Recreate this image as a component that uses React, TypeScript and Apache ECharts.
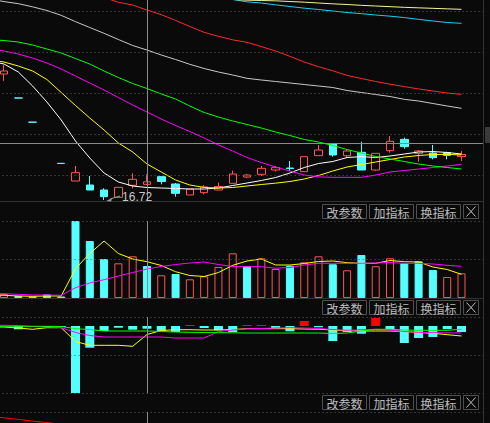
import React, { useEffect, useRef } from 'react';
import * as echarts from 'echarts';

const BG = '#0a0a0a';
const RISE = '#ff5454';
const FALL = '#54ffff';
const GUIDE = '#5e5e5e';
const CURSOR = '#8a8a8a';
const FRAME = '#333333';
const CJK = '"Noto Sans CJK SC", "Noto Sans", sans-serif';

// Daily bars, oldest first.
const opens = [31.84, 28.96, 26.06, 23.5, 21.11, 19.0, 18.52, 17.92, 17.04, 18.48, 18.6, 19.52, 18.64, 17.32, 17.6, 17.92, 18.72, 19.48, 19.8, 20.32, 20.56, 20.12, 22.04, 23.44, 22.04, 22.44, 20.32, 22.64, 24.0, 22.32, 22.36, 22.4, 21.94];
const closes = [32.2, 28.96, 26.06, 23.5, 21.11, 20.0, 17.92, 17.12, 18.24, 19.2, 18.9, 18.94, 17.52, 18.04, 18.3, 18.34, 19.84, 19.72, 20.52, 20.6, 20.5, 21.92, 22.72, 22.12, 22.6, 20.32, 22.32, 23.76, 23.12, 22.6, 21.8, 22.08, 22.18];
const lows = [31.0, 28.96, 26.06, 23.5, 21.11, 19.0, 17.92, 16.72, 17.04, 18.12, 18.52, 18.6, 17.12, 17.32, 17.4, 17.92, 18.72, 19.36, 19.6, 20.14, 20.2, 20.12, 22.04, 21.92, 21.76, 20.32, 20.2, 22.4, 22.88, 21.32, 21.6, 21.6, 21.4];
const highs = [32.92, 28.96, 26.06, 23.5, 21.11, 20.8, 19.6, 18.12, 18.24, 19.92, 19.8, 19.52, 18.76, 18.04, 18.52, 18.8, 20.24, 19.84, 20.8, 20.8, 21.4, 21.92, 23.32, 23.52, 22.8, 23.72, 22.32, 24.4, 24.2, 22.72, 23.32, 22.52, 22.6];

// Price averages. Each list starts one session before the first visible bar.
const ma5 = [33.4, 33.04, 32.08, 30.4, 28.48, 26.32, 23.8, 21.76, 19.96, 18.88, 18.4, 18.22, 18.16, 18.1, 18.04, 18.04, 18.16, 18.46, 18.76, 19.06, 19.42, 19.96, 20.62, 21.1, 21.34, 21.82, 21.92, 21.82, 22.0, 22.24, 22.48, 22.54, 22.42, 22.24];
const ma10 = [33.52, 33.28, 32.8, 32.2, 31.18, 29.62, 28.06, 26.56, 25.12, 23.56, 22.48, 21.04, 20.08, 19.12, 18.52, 18.22, 18.16, 18.22, 18.4, 18.58, 18.74, 18.94, 19.24, 19.66, 20.2, 20.68, 20.98, 21.28, 21.58, 21.88, 22.06, 22.18, 22.2, 22.12];
const ma20 = [34.96, 34.6, 34.24, 33.76, 33.16, 32.44, 31.6, 30.76, 29.92, 29.02, 28.12, 27.28, 26.44, 25.66, 24.94, 24.16, 23.32, 22.6, 21.82, 21.22, 20.68, 20.2, 19.72, 19.5, 19.44, 19.44, 19.44, 19.72, 20.08, 20.26, 20.44, 20.62, 20.8, 21.0];
const ma30 = [35.98, 35.86, 35.68, 35.32, 34.84, 34.36, 33.7, 33.04, 32.2, 31.42, 30.7, 30.1, 29.44, 28.84, 28.0, 27.22, 26.68, 26.2, 25.78, 25.36, 24.88, 24.46, 23.98, 23.68, 23.26, 22.78, 22.36, 21.94, 21.64, 21.34, 21.04, 20.8, 20.62, 20.44];
const ma60 = [40.84, 40.53, 40.28, 39.9, 39.46, 38.88, 38.12, 37.42, 36.72, 35.98, 35.26, 34.72, 34.12, 33.58, 33.0, 32.5, 32.08, 31.72, 31.32, 31.12, 30.94, 30.76, 30.58, 30.4, 30.22, 29.86, 29.62, 29.38, 29.14, 28.8, 28.6, 28.3, 28.0, 27.72];
const ma120 = [null, null, null, null, null, null, null, null, 41.04, 40.44, 40.12, 39.52, 38.96, 38.27, 37.54, 36.84, 36.36, 35.94, 35.64, 35.13, 34.6, 33.96, 33.28, 32.72, 32.22, 31.67, 31.3, 30.94, 30.62, 30.33, 30.05, 29.8, 29.56, 29.4];
const ma250 = [null, null, null, null, null, null, null, null, null, null, null, null, null, null, null, null, null, 40.78, 40.5, 40.36, 40.14, 39.94, 39.74, 39.58, 39.4, 39.22, 39.08, 38.92, 38.78, 38.61, 38.4, 38.2, 38.02, 37.92];
const ma500 = [null, null, null, null, null, null, null, null, null, null, null, null, null, null, null, null, null, 40.78, 40.7, 40.66, 40.62, 40.54, 40.46, 40.36, 40.26, 40.18, 40.08, 40.0, 39.92, 39.84, 39.78, 39.72, 39.66, 39.6];

// Volume (hands) and its two averages (averages start one session early).
const volumes = [4000, 2000, 1500, 3500, 1500, 77000, 57000, 39000, 34700, 41700, 32000, 22700, 24000, 18700, 21700, 31000, 44700, 32000, 39700, 29000, 32300, 35700, 41700, 33700, 27700, 43000, 31700, 39700, 34700, 36700, 28000, 21000, 24700];
const volFast = [2900, 2700, 2000, 1700, 2000, 2000, 29400, 44500, 57000, 44500, 39000, 36300, 32500, 26300, 22500, 21500, 25500, 32700, 37000, 39000, 33000, 33000, 34500, 36500, 37000, 35300, 34700, 34700, 37500, 36300, 36000, 31000, 28500, 23700];
const volSlow = [4300, 4300, 3700, 3000, 3000, 2700, 10300, 15000, 18300, 22000, 25500, 29000, 31500, 33500, 35000, 36000, 33500, 31500, 31300, 31300, 29800, 30500, 33000, 34700, 34700, 34700, 34700, 35000, 35500, 34700, 34700, 34000, 32700, 31700];

// Oscillator pane: histogram plus three lines (lines start one session early).
const oscBars = [0, -0.066, -0.02, -0.02, -0.02, -1.4, -0.434, -0.1, -0.034, -0.074, -0.054, -0.1, -0.12, 0.02, -0.04, -0.086, -0.12, 0.02, 0.02, -0.04, -0.106, 0.1, -0.026, -0.3, -0.12, -0.154, 0.16, -0.06, -0.34, -0.24, -0.22, -0.06, -0.12];
const oscFast = [-0.02, -0.02, -0.04, -0.066, -0.034, -0.034, -0.31, -0.386, -0.386, -0.386, -0.406, -0.17, -0.09, -0.074, -0.074, -0.08, -0.08, -0.07, -0.054, -0.054, -0.054, -0.054, -0.06, -0.064, -0.08, -0.094, -0.1, -0.1, -0.1, -0.11, -0.13, -0.146, -0.174, -0.2];
const oscSlow = [0.014, 0.014, 0.01, -0.01, -0.02, -0.03, -0.13, -0.19, -0.22, -0.22, -0.22, -0.22, -0.22, -0.24, -0.24, -0.24, -0.11, -0.08, -0.056, -0.05, -0.04, -0.034, -0.04, -0.05, -0.07, -0.086, -0.074, -0.066, -0.08, -0.11, -0.126, -0.134, -0.136, -0.14];
const oscBase = [-0.006, -0.006, -0.006, -0.006, -0.006, -0.01, -0.054, -0.07, -0.1, -0.1, -0.1, -0.1, -0.11, -0.12, -0.126, -0.13, -0.134, -0.136, -0.14, -0.14, -0.14, -0.14, -0.14, -0.14, -0.15, -0.14, -0.1, -0.066, -0.066, -0.08, -0.086, -0.086, -0.086, -0.066];

// Fourth pane line (starts one session early).
const lowerLine = [0.845, 0.76, 0.68, 0.595, 0.52, 0.44];

// Guide levels per pane and the cursor position.
const priceGuides = [39.4, 34.48, 29.56, 24.64, 19.72];
const volGuides = [77000, 38500];
const oscGuides = [0.18, -0.58, -1.34];
const lowerGuides = [1.05];
const cursorPrice = 23.5;
const cursorSession = 10;
const buttonLabels = ['改参数', '加指标', '换指标'];

export default function App() {
  const ref = useRef<HTMLDivElement>(null);

  useEffect(() => {
    const el = ref.current;
    if (!el) return;
    const chart = echarts.init(el, undefined, { renderer: 'svg' });

    const n = opens.length;
    const categories = Array.from({ length: n + 2 }, (_, i) => `S${i}`);
    const empty = '-';
    const band = 14.296;
    const left = 4.02 - 1.5 * band;
    const width = band * categories.length;

    const panes = [
      { top: 0, height: 201 },
      { top: 221, height: 77 },
      { top: 317, height: 76 },
      { top: 412, height: 21 },
    ];
    const ranges = [
      [16.6, 40.72],
      [0, 77000],
      [-1.34, 0.18],
      [0, 1.05],
    ];

    const grid = panes.map((p) => ({ left, width, top: p.top, height: p.height, outerBoundsMode: 'none' }));
    const xAxis = panes.map((_, g) => ({
      type: 'category',
      gridIndex: g,
      data: categories,
      boundaryGap: true,
      axisLine: { show: g < 2, onZero: false, lineStyle: { color: FRAME, width: 1 } },
      axisTick: { show: false },
      axisLabel: { show: false },
      splitLine: { show: false },
    }));
    const yAxis = ranges.map(([min, max], g) => ({ type: 'value', gridIndex: g, min, max, show: false }));

    const line = (name: string, data: (number | null)[], color: string, g: number) => ({
      type: 'line',
      name,
      xAxisIndex: g,
      yAxisIndex: g,
      data: data.map((v) => (v == null ? empty : v)),
      symbol: 'none',
      showSymbol: false,
      silent: true,
      z: 3,
      lineStyle: { color, width: 1 },
    });

    const guides = (g: number, levels: number[]) => ({
      type: 'line',
      xAxisIndex: g,
      yAxisIndex: g,
      data: [],
      silent: true,
      z: 1,
      markLine: {
        silent: true,
        symbol: ['none', 'none'],
        label: { show: false },
        emphasis: { disabled: true },
        lineStyle: { type: [1, 3], color: GUIDE, width: 1 },
        data: levels.map((v) => ({ yAxis: v })),
      },
    });

    const cursor = (g: number) => ({
      type: 'line',
      xAxisIndex: g,
      yAxisIndex: g,
      data: [],
      silent: true,
      z: 4,
      markLine: {
        silent: true,
        symbol: ['none', 'none'],
        label: { show: false },
        emphasis: { disabled: true },
        lineStyle: { type: 'solid', color: CURSOR, width: 1 },
        data: g === 0 ? [{ xAxis: cursorSession + 1 }, { yAxis: cursorPrice }] : [{ xAxis: cursorSession + 1 }],
      },
    });

    const candleData = [[empty, empty, empty, empty], ...opens.map((o, i) => [o, closes[i], lows[i], highs[i]])];
    const rising = closes.map((c, i) => c > (i > 0 ? closes[i - 1] : opens[i]));
    const volData = [
      empty,
      ...volumes.map((v, i) => ({
        value: v,
        itemStyle: rising[i]
          ? { color: BG, borderColor: RISE, borderWidth: 1 }
          : { color: FALL, borderColor: FALL, borderWidth: 1 },
      })),
    ];
    const oscData = [empty, ...oscBars.map((v) => ({ value: v, itemStyle: { color: v >= 0 ? '#ff0000' : FALL } }))];

    const series: any[] = [
      guides(0, priceGuides),
      guides(1, volGuides),
      guides(2, oscGuides),
      guides(3, lowerGuides),
      {
        type: 'candlestick',
        name: 'K',
        xAxisIndex: 0,
        yAxisIndex: 0,
        data: candleData,
        barWidth: 8,
        silent: true,
        z: 2,
        itemStyle: {
          color: BG,
          color0: FALL,
          borderColor: RISE,
          borderColor0: FALL,
          borderColorDoji: FALL,
          borderWidth: 1,
        },
      },
      line('MA5', ma5, '#ffffff', 0),
      line('MA10', ma10, '#ffff00', 0),
      line('MA20', ma20, '#ff00ff', 0),
      line('MA30', ma30, '#00ff00', 0),
      line('MA60', ma60, '#c8c8c8', 0),
      line('MA120', ma120, '#ff2a2a', 0),
      line('MA250', ma250, '#22ccf0', 0),
      line('MA500', ma500, '#f4f49a', 0),
      { type: 'bar', name: 'VOL', xAxisIndex: 1, yAxisIndex: 1, data: volData, barWidth: 8, silent: true, z: 2 },
      line('VMA1', volFast, '#ffff00', 1),
      line('VMA2', volSlow, '#ff00ff', 1),
      { type: 'bar', name: 'OSC', xAxisIndex: 2, yAxisIndex: 2, data: oscData, barWidth: 9, silent: true, z: 2 },
      line('OSC1', oscFast, '#ffff00', 2),
      line('OSC2', oscSlow, '#ff00ff', 2),
      line('OSC3', oscBase, '#00ff00', 2),
      line('LOW1', lowerLine, '#ff0000', 3),
      cursor(0),
      cursor(1),
      cursor(2),
      cursor(3),
    ];

    chart.setOption({
      animation: false,
      backgroundColor: BG,
      grid,
      xAxis,
      yAxis,
      series,
    });

    // Pane toolbars.
    const graphics: any[] = [];
    [204.5, 300.5, 395.5].forEach((rowY) => {
      buttonLabels.forEach((label, i) => {
        const x = 322.5 + i * 47;
        graphics.push({
          type: 'rect',
          shape: { x, y: rowY, width: 44, height: 14 },
          style: { fill: BG, stroke: '#505050', lineWidth: 1 },
          silent: true,
          z: 20,
        });
        graphics.push({
          type: 'text',
          x: x + 22,
          y: rowY + 7.5,
          style: {
            text: label,
            fill: '#bdbdbd',
            fontSize: 12,
            fontFamily: CJK,
            align: 'center',
            verticalAlign: 'middle',
          },
          silent: true,
          z: 21,
        });
      });
      graphics.push({
        type: 'rect',
        shape: { x: 463.5, y: rowY, width: 15, height: 14 },
        style: { fill: BG, stroke: '#505050', lineWidth: 1 },
        silent: true,
        z: 20,
      });
      graphics.push({
        type: 'line',
        shape: { x1: 466.5, y1: rowY + 2, x2: 475.5, y2: rowY + 12 },
        style: { stroke: '#bdbdbd', lineWidth: 1 },
        silent: true,
        z: 21,
      });
      graphics.push({
        type: 'line',
        shape: { x1: 475.5, y1: rowY + 2, x2: 466.5, y2: rowY + 12 },
        style: { stroke: '#bdbdbd', lineWidth: 1 },
        silent: true,
        z: 21,
      });
    });

    // Right frame and scroll thumb.
    graphics.push({
      type: 'line',
      shape: { x1: 483.5, y1: 0, x2: 483.5, y2: 423 },
      style: { stroke: FRAME, lineWidth: 1 },
      silent: true,
      z: 20,
    });
    graphics.push({
      type: 'rect',
      shape: { x: 485, y: 127, width: 5, height: 16 },
      style: { fill: '#3a3a3a' },
      silent: true,
      z: 20,
    });

    // Marker for the lowest price in view.
    const lowIdx = lows.indexOf(Math.min(...lows));
    const pt = chart.convertToPixel({ gridIndex: 0 }, [lowIdx + 1, lows[lowIdx]]) as number[];
    if (pt && isFinite(pt[0]) && isFinite(pt[1])) {
      const [px, py] = pt;
      graphics.push({
        type: 'polygon',
        shape: { points: [[px + 2, py + 1], [px + 8, py - 2], [px + 7, py + 1.5]] },
        style: { fill: '#9a9a9a' },
        silent: true,
        z: 21,
      });
      graphics.push({
        type: 'line',
        shape: { x1: px + 6, y1: py - 1, x2: px + 16, y2: py - 4 },
        style: { stroke: '#9a9a9a', lineWidth: 1 },
        silent: true,
        z: 21,
      });
      graphics.push({
        type: 'text',
        x: px + 18,
        y: py - 3.5,
        style: {
          text: lows[lowIdx].toFixed(2),
          fill: '#c8c8c8',
          fontSize: 12,
          fontFamily: '"Liberation Sans", Arial, sans-serif',
          verticalAlign: 'middle',
        },
        silent: true,
        z: 21,
      });
    }

    chart.setOption({ graphic: graphics });

    return () => chart.dispose();
  }, []);

  return (
    <div
      ref={ref}
      style={{ position: 'fixed', left: 0, top: 0, width: 490, height: 423, background: BG }}
    />
  );
}
